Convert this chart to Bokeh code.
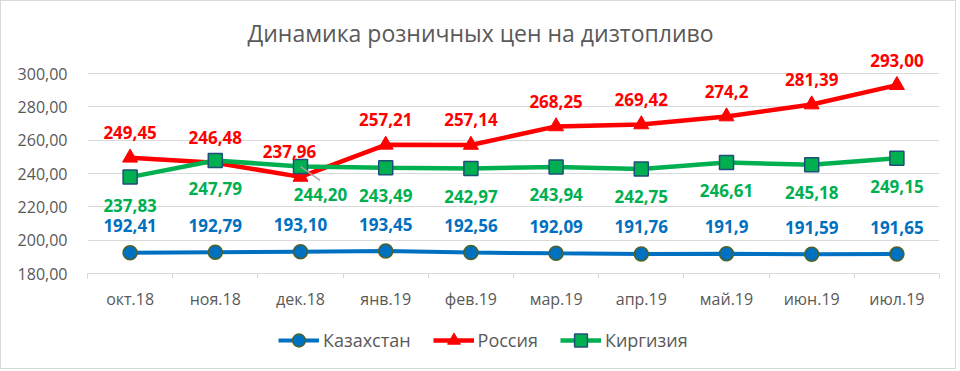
from bokeh.plotting import figure
from bokeh.layouts import column
from bokeh.models import (Range1d, FixedTicker, Legend, LegendItem, ColumnDataSource)
from bokeh.core.properties import value
from bokeh.embed import file_html
from bokeh.resources import INLINE

months = ["окт.18", "ноя.18", "дек.18", "янв.19", "фев.19", "мар.19",
          "апр.19", "май.19", "июн.19", "июл.19"]
kaz = [192.41, 192.79, 193.10, 193.45, 192.56, 192.09, 191.76, 191.90, 191.59, 191.65]
kaz_labels = ["192,41", "192,79", "193,10", "193,45", "192,56", "192,09",
              "191,76", "191,9", "191,59", "191,65"]
rus = [249.45, 246.48, 237.96, 257.21, 257.14, 268.25, 269.42, 274.20, 281.39, 293.00]
rus_labels = ["249,45", "246,48", "237,96", "257,21", "257,14", "268,25",
              "269,42", "274,2", "281,39", "293,00"]
kgz = [237.83, 247.79, 244.20, 243.49, 242.97, 243.94, 242.75, 246.61, 245.18, 249.15]
kgz_labels = ["237,83", "247,79", "244,20", "243,49", "242,97", "243,94",
              "242,75", "246,61", "245,18", "249,15"]
y_ticks = [180, 200, 220, 240, 260, 280, 300]
y_tick_labels = ["180,00", "200,00", "220,00", "240,00", "260,00", "280,00", "300,00"]
title_text = "Динамика розничных цен на дизтопливо"
series_names = ["Казахстан", "Россия", "Киргизия"]

# label nudges (screen px), styling only
rus_dx = [0, 0, -11, 0, 0, 0, 0, 0, 0, 0]
kgz_dx = [0, 0, 20, 0, 0, 0, 0, 0, 0, 0]

FONT = "Open Sans"
GREY = "#595959"
BLUE = "#0070C0"
RED = "#FF0000"
GREEN = "#00B050"

styles = {
    series_names[0]: dict(color=BLUE, lw=4, marker="circle", size=14, mline="#4F6228", mlw=1.5),
    series_names[1]: dict(color=RED, lw=4.5, marker="triangle", size=15, mline=RED, mlw=1),
    series_names[2]: dict(color=GREEN, lw=4.5, marker="square", size=14, mline="#1F4E79", mlw=1.5),
}
series_values = {series_names[0]: kaz, series_names[1]: rus, series_names[2]: kgz}

xs = list(range(len(months)))

p = figure(width=954, height=320, output_backend="svg", toolbar_location=None,
           x_range=Range1d(-0.5, len(months) - 0.5), y_range=Range1d(180, 315),
           min_border_left=86, min_border_right=16, min_border_top=47, min_border_bottom=48)
p.outline_line_color = None
p.background_fill_color = "white"
p.border_fill_color = "white"

# title
p.title.text = title_text
p.title.align = "left"
p.title.offset = 160
p.title.text_font = FONT
p.title.text_font_size = "23px"
p.title.text_font_style = "normal"
p.title.text_color = GREY
p.title.standoff = 0

# axes
p.xaxis.ticker = FixedTicker(ticks=xs, minor_ticks=[i - 0.5 for i in range(len(months) + 1)])
p.xaxis.major_label_overrides = {i: m for i, m in zip(xs, months)}
p.xaxis.axis_line_color = "#D9D9D9"
p.xaxis.major_tick_line_color = None
p.xaxis.minor_tick_line_color = "#D9D9D9"
p.xaxis.minor_tick_in = 0
p.xaxis.minor_tick_out = 5
p.xaxis.major_tick_out = 0
p.xaxis.major_tick_in = 0
p.xaxis.major_label_standoff = 9
p.xaxis.major_label_text_font = FONT
p.xaxis.major_label_text_font_size = "16px"
p.xaxis.major_label_text_color = GREY

p.yaxis.ticker = FixedTicker(ticks=y_ticks)
p.yaxis.major_label_overrides = {t: l for t, l in zip(y_ticks, y_tick_labels)}
p.yaxis.axis_line_color = None
p.yaxis.major_tick_line_color = None
p.yaxis.minor_tick_line_color = None
p.yaxis.major_tick_out = 0
p.yaxis.major_label_standoff = 20
p.yaxis.major_label_text_font = FONT
p.yaxis.major_label_text_font_size = "16px"
p.yaxis.major_label_text_color = GREY

p.xgrid.grid_line_color = None
p.ygrid.grid_line_color = "#D9D9D9"
p.ygrid.grid_line_width = 1

# series
for name in series_names:
    s = styles[name]
    vals = series_values[name]
    p.line(xs, vals, line_color=s["color"], line_width=s["lw"])
    p.scatter(xs, vals, marker=s["marker"], size=s["size"], fill_color=s["color"],
              line_color=s["mline"], line_width=s["mlw"])

# leader line for the moved label
p.ray(x=[xs[2]], y=[kgz[2]], length=24, length_units="screen", angle=-0.62,
      line_color="#A6A6A6", line_width=1.5)

lab_common = dict(text_font=value(FONT), text_font_style="bold", text_font_size="17px",
                  text_align="center", text_baseline="middle")
p.text(x=xs, y=kaz, text=kaz_labels, y_offset=-27, text_color=BLUE, **lab_common)
p.text(source=ColumnDataSource(dict(x=xs, y=rus, t=rus_labels, dx=rus_dx)),
       x="x", y="y", text="t", x_offset="dx", y_offset=-25, text_color=RED, **lab_common)
p.text(source=ColumnDataSource(dict(x=xs, y=kgz, t=kgz_labels, dx=kgz_dx)),
       x="x", y="y", text="t", x_offset="dx", y_offset=28, text_color=GREEN, **lab_common)

# legend strip (its own small canvas so nothing is clipped); the series are
# drawn there outside its visible range, only their legend swatches show
lf = figure(width=954, height=47, output_backend="svg", toolbar_location=None,
            x_range=Range1d(-0.5, len(months) - 0.5), y_range=Range1d(0, 1),
            x_axis_type=None, y_axis_type=None,
            min_border_left=0, min_border_right=0, min_border_top=0, min_border_bottom=0)
lf.outline_line_color = None
lf.grid.visible = False
lf.background_fill_color = "white"
lf.border_fill_color = "white"

items = []
for name in series_names:
    s = styles[name]
    vals = series_values[name]
    r1 = lf.line(xs, vals, line_color=s["color"], line_width=s["lw"])
    r2 = lf.scatter(xs, vals, marker=s["marker"], fill_color=s["color"],
                    line_color=s["mline"], line_width=s["mlw"])
    items.append(LegendItem(label=name, renderers=[r1, r2]))

legend = Legend(items=items, orientation="horizontal", location=(191, 12))
legend.border_line_color = None
legend.background_fill_alpha = 0
legend.padding = 0
legend.margin = 0
legend.spacing = 22
legend.glyph_width = 41
legend.glyph_height = 32
legend.label_standoff = 4
legend.label_text_font = FONT
legend.label_text_font_size = "18px"
legend.label_text_color = GREY
lf.add_layout(legend, "center")

layout = column(p, lf, spacing=0, styles={"border": "1px solid #D9D9D9"})

open("out.html", "w").write(file_html(layout, INLINE))
